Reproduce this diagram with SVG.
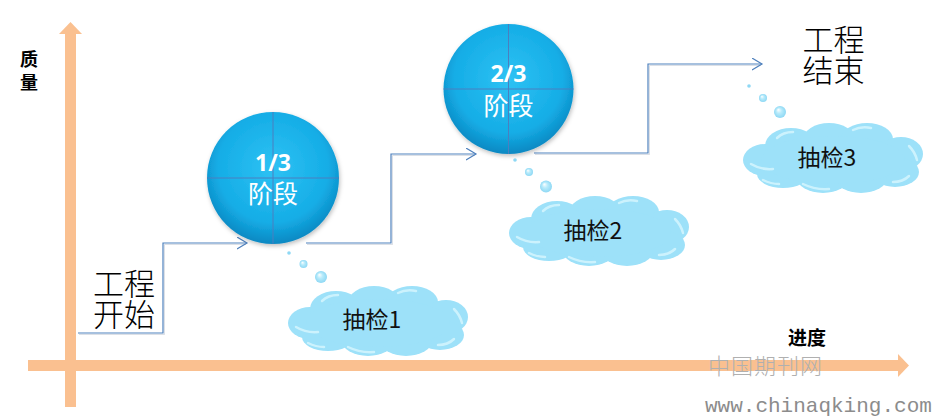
<svg xmlns="http://www.w3.org/2000/svg" xmlns:xlink="http://www.w3.org/1999/xlink" width="936" height="419" viewBox="0 0 936 419">
<style>
.axis{fill:#FAC090;}
.conn{fill:none;stroke:#4F81BD;stroke-width:1.2;}
.connsh{fill:none;stroke:#9aa6b8;stroke-width:1;opacity:0.35;}
.cross{stroke:#4A7FC0;stroke-width:1;}
.big{font-family:"Noto Sans CJK SC","Noto Sans CJK JP",sans-serif;font-size:31px;font-weight:300;fill:#000;text-anchor:middle;}
.axl{font-family:"Noto Sans CJK SC",sans-serif;font-size:18px;font-weight:bold;fill:#000;text-anchor:middle;}
.cl{font-family:"Noto Sans CJK SC",sans-serif;font-size:23px;fill:#111;text-anchor:middle;}
.frac{font-family:"Open Sans","Liberation Sans",sans-serif;font-size:23px;font-weight:bold;fill:#fff;text-anchor:middle;}
.stage{font-family:"Noto Sans CJK SC",sans-serif;font-size:25px;fill:#fff;text-anchor:middle;}
.wm1{font-family:"Noto Sans CJK SC",serif;font-size:22px;font-weight:300;fill:#b0b0b0;letter-spacing:1px;}
.wm2{font-family:"Liberation Mono",monospace;font-size:21px;fill:#8c8c8c;}
.cf{fill:#9DE1F9;}
.hl{fill:none;stroke:#D8F6FE;stroke-width:2.5;opacity:0.8;stroke-linecap:round;}
</style>
<defs>
<marker id="arr" markerUnits="userSpaceOnUse" markerWidth="14" markerHeight="14" refX="10" refY="6" orient="auto">
<path d="M0,0 L10,6 L0,12" fill="none" stroke="#4F81BD" stroke-width="1.2"/>
</marker>
<radialGradient id="ball" cx="50%" cy="42%" r="58%">
<stop offset="0" stop-color="#2EC2F4"/>
<stop offset="0.72" stop-color="#15ADE6"/>
<stop offset="1" stop-color="#0B88C2"/>
</radialGradient>
<radialGradient id="bub" cx="50%" cy="50%" r="50%" fx="35%" fy="30%">
<stop offset="0" stop-color="#FFFFFF"/>
<stop offset="0.45" stop-color="#B8EBFB"/>
<stop offset="1" stop-color="#8ED8F4"/>
</radialGradient>
<filter id="sh" x="-20%" y="-20%" width="140%" height="140%">
<feDropShadow dx="1" dy="2" stdDeviation="2" flood-color="#000" flood-opacity="0.25"/>
</filter>
<g id="cloudShape">
<ellipse class="cf" cx="22" cy="38" rx="22" ry="16"/>
<ellipse class="cf" cx="48" cy="24" rx="26" ry="18"/>
<ellipse class="cf" cx="86" cy="18" rx="26" ry="17"/>
<ellipse class="cf" cx="124" cy="17" rx="26" ry="16"/>
<ellipse class="cf" cx="158" cy="32" rx="22" ry="17"/>
<ellipse class="cf" cx="152" cy="50" rx="24" ry="15"/>
<ellipse class="cf" cx="118" cy="56" rx="26" ry="15"/>
<ellipse class="cf" cx="80" cy="56" rx="26" ry="15"/>
<ellipse class="cf" cx="40" cy="52" rx="26" ry="14"/>
<ellipse class="cf" cx="90" cy="38" rx="72" ry="24"/>
<path class="hl" d="M8,42 Q18,48 30,47"/>
<path class="hl" d="M34,16 Q40,10 50,10"/>
<path class="hl" d="M110,8 Q118,4 128,6"/>
<path class="hl" d="M166,24 Q172,30 174,38"/>
<path class="hl" d="M150,60 Q160,60 166,54"/>
<path class="hl" d="M60,62 Q72,68 86,67"/>
<path class="hl" d="M20,58 Q28,62 36,62"/>
</g>
</defs>
<rect width="936" height="419" fill="#fff"/>
<g id="axes">
<rect class="axis" x="65" y="33" width="11" height="374"/>
<polygon class="axis" points="59,34 70.5,22 82,34"/>
<rect class="axis" x="28" y="360" width="871" height="11"/>
<polygon class="axis" points="898,354 909,365.5 898,377"/>
</g>
<g id="connectors">
<path class="connsh" d="M79,334.5 H164.5 V244.5 H246"/>
<path class="connsh" d="M307,244.5 H392.5 V155.5 H475"/>
<path class="connsh" d="M535,154.5 H649.5 V65.5 H761"/>
<path class="conn" d="M78,333 H163 V243 H247" marker-end="url(#arr)"/>
<path class="conn" d="M306,243 H391 V154 H476" marker-end="url(#arr)"/>
<path class="conn" d="M534,153 H648 V64 H762" marker-end="url(#arr)"/>
</g>
<g id="stage1">
<circle cx="273" cy="178" r="66" fill="url(#ball)" filter="url(#sh)"/>
<line class="cross" x1="207" y1="178" x2="339" y2="178"/>
<line class="cross" x1="273" y1="112" x2="273" y2="244"/>
<text class="frac" x="273" y="171">1/3</text>
<text class="stage" x="273" y="203">阶段</text>
</g>
<g id="stage2">
<circle cx="508.5" cy="89" r="65" fill="url(#ball)" filter="url(#sh)"/>
<line class="cross" x1="443.5" y1="89" x2="573.5" y2="89"/>
<line class="cross" x1="508.5" y1="24" x2="508.5" y2="154"/>
<text class="frac" x="508.5" y="82">2/3</text>
<text class="stage" x="508.5" y="115">阶段</text>
</g>
<g id="check1">
<circle cx="289" cy="253" r="1.8" fill="#8ED8F4"/>
<circle cx="303.5" cy="264" r="4" fill="url(#bub)"/>
<circle cx="321" cy="277" r="6" fill="url(#bub)"/>
<g transform="translate(288,285)">
<use xlink:href="#cloudShape"/>
<text class="cl" x="84" y="43">抽检1</text>
</g>
</g>
<g id="check2">
<circle cx="515" cy="160" r="1.8" fill="#8ED8F4"/>
<circle cx="529" cy="172" r="4" fill="url(#bub)"/>
<circle cx="546" cy="186.5" r="6" fill="url(#bub)"/>
<g transform="translate(509,195)">
<use xlink:href="#cloudShape"/>
<text class="cl" x="84" y="44">抽检2</text>
</g>
</g>
<g id="check3">
<circle cx="749" cy="86" r="1.8" fill="#8ED8F4"/>
<circle cx="763" cy="98" r="4" fill="url(#bub)"/>
<circle cx="780" cy="112" r="6" fill="url(#bub)"/>
<g transform="translate(743,122)">
<use xlink:href="#cloudShape"/>
<text class="cl" x="84" y="44">抽检3</text>
</g>
</g>
<g id="start">
<text class="big" x="124" y="295"><tspan x="124" y="295">工程</tspan><tspan x="124" y="326">开始</tspan></text>
</g>
<g id="end">
<text class="big" x="833.5" y="51"><tspan x="833.5" y="51">工程</tspan><tspan x="833.5" y="82">结束</tspan></text>
</g>
<g id="labels">
<text class="axl" x="29" y="66"><tspan x="29" y="66">质</tspan><tspan x="29" y="89">量</tspan></text>
<text class="axl" x="807" y="345" style="font-size:19px">进度</text>
</g>
<g id="watermark">
<text class="wm1" x="708" y="374">中国期刊网</text>
<text class="wm2" x="705" y="412">www.chinaqking.com</text>
</g>
</svg>
